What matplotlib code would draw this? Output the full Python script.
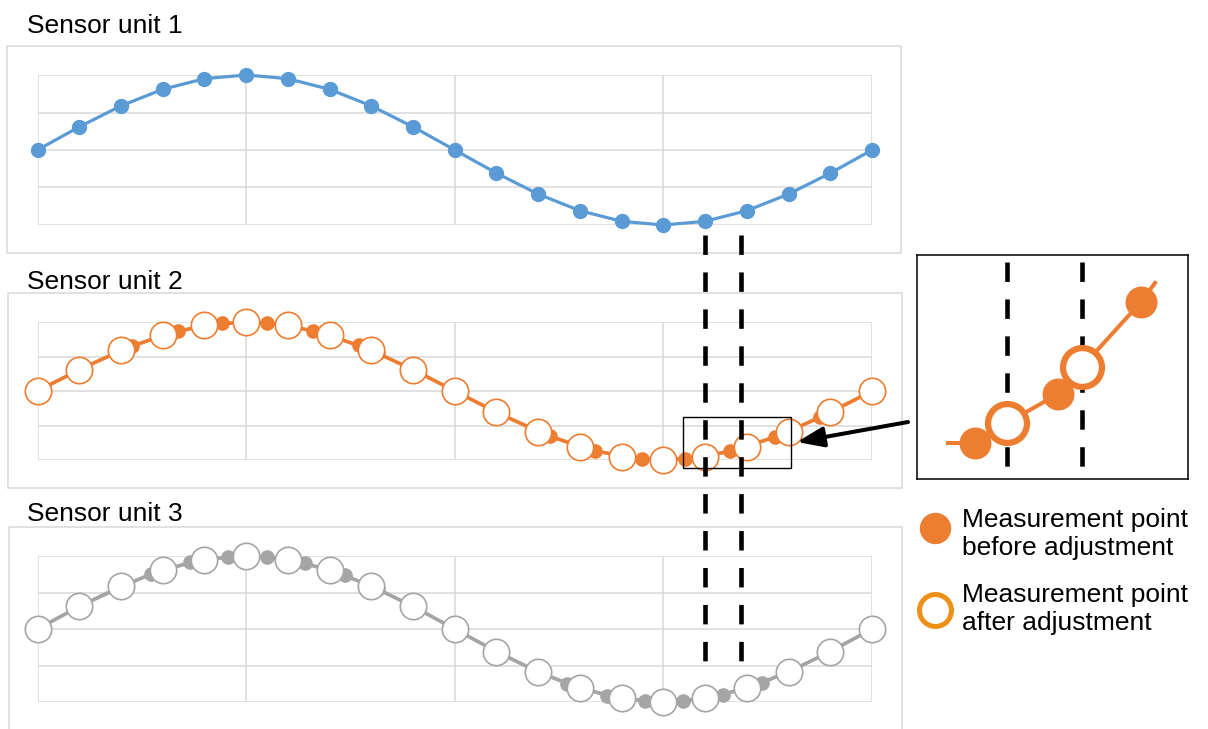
import matplotlib
matplotlib.use('Agg')
import matplotlib.pyplot as plt
from matplotlib.patches import Rectangle, FancyArrowPatch
from matplotlib.transforms import blended_transform_factory

plt.rcParams['font.family'] = ['Liberation Sans', 'DejaVu Sans']
plt.rcParams['lines.scale_dashes'] = False

# --- data ---
sample_x = list(range(21))
reference_y = [0, 0.309, 0.588, 0.809, 0.951, 1.0, 0.951, 0.809, 0.588, 0.309, 0,
               -0.309, -0.588, -0.809, -0.951, -1.0, -0.951, -0.809, -0.588, -0.309, 0]

# unit 2 raw samples (before adjustment)
unit2_before_x = [0.15, 1.15, 2.27, 3.36, 4.43, 5.5, 6.6, 7.7, 8.15, 9.1, 10.1,
                  11.05, 12.29, 13.37, 14.49, 15.52, 16.6, 17.68, 18.75, 19.85]
unit2_before_y = [0.047, 0.353, 0.654, 0.870, 0.984, 0.988, 0.876, 0.661, 0.549, 0.279, -0.031,
                  -0.324, -0.659, -0.872, -0.987, -0.987, -0.876, -0.666, -0.383, -0.047]

# unit 3 raw samples (before adjustment)
unit3_before_x = [0.1, 1.05, 2.71, 3.66, 4.57, 5.51, 6.42, 7.38, 8.15, 9.1, 10.05,
                  11.0, 11.9, 12.69, 13.65, 14.56, 15.47, 16.43, 17.37, 18.1, 19.05, 19.95]
unit3_before_y = [0.031, 0.324, 0.752, 0.913, 0.991, 0.987, 0.902, 0.733, 0.549, 0.279, -0.016,
                  -0.309, -0.562, -0.748, -0.911, -0.990, -0.989, -0.901, -0.735, -0.562, -0.294, -0.016]

# sample times marked with the dashed lines
mark_x = [16.0, 16.85]

# zoomed-in detail (inset units)
inset_line_x = [31, 58, 90, 141, 165, 224, 238]
inset_line_y = [36, 36, 56, 85, 112, 177, 196]
inset_before_x = [58, 141, 224]
inset_before_y = [36, 85, 177]
inset_after_x = [90, 165]
inset_after_y = [56, 112]
inset_mark_x = [90, 165]

titles = ['Sensor unit 1', 'Sensor unit 2', 'Sensor unit 3']
legend_labels = ['Measurement point\nbefore adjustment', 'Measurement point\nafter adjustment']

BLUE = '#5B9BD5'
ORANGE = '#ED7D31'
GRAY = '#A5A5A5'
GRID = '#D9D9D9'

W, H = 1208, 729
fig = plt.figure(figsize=(W / 100, H / 100), dpi=100)


def px_axes(left, top, right, bottom):
    return fig.add_axes([left / W, 1 - bottom / H, (right - left) / W, (bottom - top) / H])


def style_panel(ax):
    ax.set_xlim(0, 20)
    ax.set_ylim(-1, 1)
    ax.set_xticks([0, 5, 10, 15, 20])
    ax.set_yticks([-1, -0.5, 0, 0.5, 1])
    ax.grid(True, color=GRID, lw=1.1)
    ax.tick_params(length=0, labelbottom=False, labelleft=False)
    for s in ax.spines.values():
        s.set_visible(False)
    ax.set_facecolor('none')


ax1 = px_axes(37.5, 75, 872, 225)
ax2 = px_axes(37.5, 322, 872, 460)
ax3 = px_axes(37.5, 556, 872, 702)
for ax in (ax1, ax2, ax3):
    style_panel(ax)

# panel 1: reference unit
ax1.plot(sample_x, reference_y, color=BLUE, lw=2.3, marker='o', ms=10, clip_on=False)

# panels 2 and 3: raw samples, then adjusted samples on top
for ax, color, bx, by in ((ax2, ORANGE, unit2_before_x, unit2_before_y),
                          (ax3, GRAY, unit3_before_x, unit3_before_y)):
    ax.plot(bx, by, color=color, lw=2.4, marker='o', ms=9.5, clip_on=False, zorder=3)
    ax.plot(sample_x, reference_y, color=color, lw=2.4, marker='o', ms=19,
            mfc='white', mec=color, mew=1.2, clip_on=False, zorder=4)

# box around the zoomed region in panel 2
ax2.add_patch(Rectangle((15.46, -1.116), 2.61, 0.739, fill=False, ec='black',
                        lw=1.0, clip_on=False, zorder=6))

# overlay for annotations in pixel units
ov = fig.add_axes([0, 0, 1, 1])
ov.set_xlim(0, W)
ov.set_ylim(H, 0)
ov.axis('off')
ov.set_facecolor('none')

for (l, t, r, b) in [(7, 46, 901, 253), (8, 293, 902, 488), (9, 527, 902, 740)]:
    ov.add_patch(Rectangle((l, t), r - l, b - t, fill=False, ec=GRID, lw=1.1, clip_on=False))

for y, title in zip([33, 289, 521], titles):
    ov.text(27, y, title, fontsize=19, va='baseline', ha='left')

# dashed marks through all three panels
trans = blended_transform_factory(ax1.transData, ov.transData)
for x in mark_x:
    ov.plot([x, x], [235, 667], transform=trans, color='black', lw=3.3,
            dashes=(14.0, 12.6), dash_capstyle='butt', zorder=5)

# arrow to the inset
ov.add_patch(FancyArrowPatch((908, 422), (797, 442),
                             arrowstyle='-|>,head_length=1.0,head_width=0.38',
                             mutation_scale=16, lw=2.9, color='black',
                             shrinkA=0, shrinkB=0))

# inset
axi = px_axes(917, 255, 1188, 479)
axi.set_xlim(0, 271)
axi.set_ylim(0, 224)
axi.set_xticks([])
axi.set_yticks([])
for s in axi.spines.values():
    s.set_color('black')
    s.set_linewidth(1.1)
for x in inset_mark_x:
    axi.plot([x, x], [217, 11], color='black', lw=3.3, dashes=(14.0, 12.6),
             dash_capstyle='butt', zorder=2)
axi.plot(inset_line_x, inset_line_y, color=ORANGE, lw=2.9, zorder=3)
axi.plot(inset_before_x, inset_before_y, 'o', color=ORANGE, ms=22, zorder=4)
axi.plot(inset_after_x, inset_after_y, 'o', mfc='white', mec=ORANGE, ms=28, mew=4.5, zorder=5)

# legend (va='baseline' aligns the last line of a two-line label)
ov.plot([935], [528], 'o', color=ORANGE, ms=21.6)
ov.plot([935], [610], 'o', mfc='white', mec='#EE9016', ms=23, mew=3.6)
ov.text(962, 555, legend_labels[0], fontsize=19, va='baseline', ha='left', linespacing=1.22)
ov.text(962, 630, legend_labels[1], fontsize=19, va='baseline', ha='left', linespacing=1.22)

fig.savefig('out.png', dpi=100)
